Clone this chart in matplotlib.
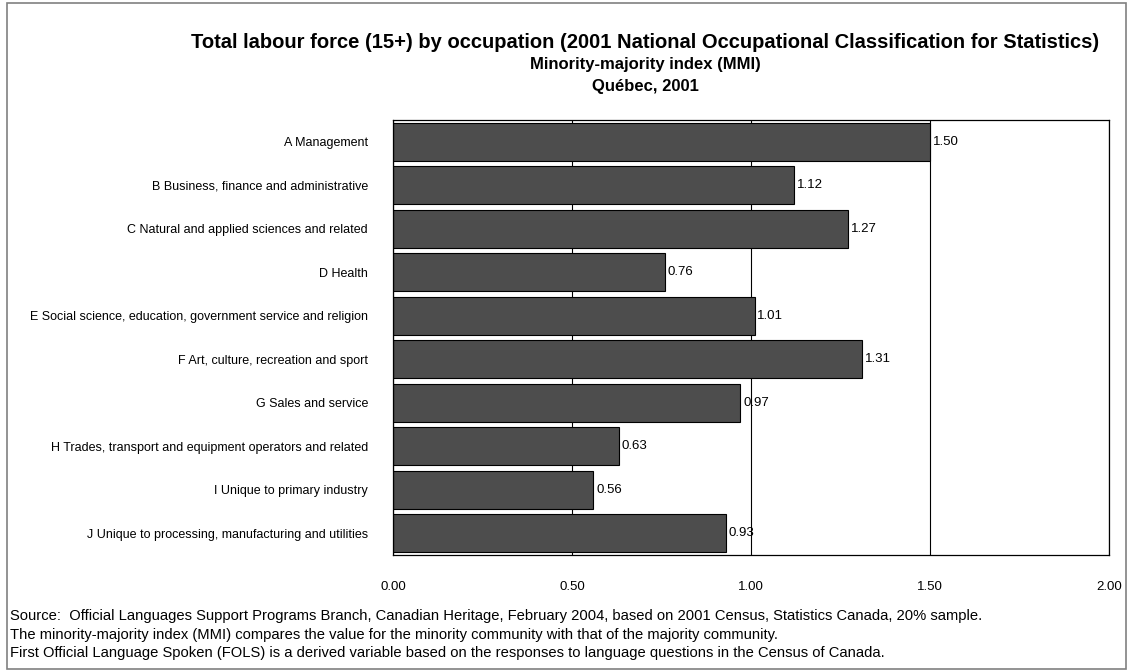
import matplotlib.pyplot as plt
from matplotlib.patches import Rectangle

plt.rcParams['font.family'] = ['Liberation Sans', 'DejaVu Sans']

occupations = [
    "A Management",
    "B Business, finance and administrative",
    "C Natural and applied sciences and related",
    "D Health",
    "E Social science, education, government service and religion",
    "F Art, culture, recreation and sport",
    "G Sales and service",
    "H Trades, transport and equipment operators and related",
    "I Unique to primary industry",
    "J Unique to processing, manufacturing and utilities",
]
mmi = [1.50, 1.12, 1.27, 0.76, 1.01, 1.31, 0.97, 0.63, 0.56, 0.93]
x_ticks = [0.0, 0.5, 1.0, 1.5, 2.0]

notes = [
    "Source:  Official Languages Support Programs Branch, Canadian Heritage, February 2004, based on 2001 Census, Statistics Canada, 20% sample.",
    "The minority-majority index (MMI) compares the value for the minority community with that of the majority community.",
    "First Official Language Spoken (FOLS) is a derived variable based on the responses to language questions in the Census of Canada.",
]

W, H = 1127, 671
fig = plt.figure(figsize=(W / 100, H / 100), dpi=100)
fig.patch.set_facecolor("white")

# outer frame (right/bottom edges sit at the image border)
fig.patches.append(Rectangle((7 / W, 1 - 669 / H), (1126 - 7) / W, (669 - 3) / H,
                             transform=fig.transFigure, fill=False,
                             edgecolor="#808080", linewidth=1.2))

ax = fig.add_axes([393 / W, 1 - 555 / H, (1109 - 393) / W, (555 - 120) / H])
ypos = list(range(len(mmi)))
ax.barh(ypos, mmi, height=0.87, color="#4d4d4d", edgecolor="black",
        linewidth=0.8, zorder=2)
for y, v in zip(ypos, mmi):
    ax.text(v + 0.008, y, f"{v:.2f}", va="center", ha="left", fontsize=9.5, zorder=3)

ax.set_xlim(0, 2)
ax.set_ylim(len(mmi) - 0.5, -0.5)
ax.set_xticks(x_ticks)
ax.set_xticklabels([f"{t:.2f}" for t in x_ticks], fontsize=9.5)
ax.tick_params(axis="x", length=0, pad=19)
ax.set_yticks(ypos)
ax.set_yticklabels(occupations, fontsize=9)
ax.tick_params(axis="y", length=0, pad=18)
ax.grid(axis="x", color="black", linewidth=0.8, zorder=1)
for s in ax.spines.values():
    s.set_color("black")
    s.set_linewidth(0.9)

cx = 645 / W
fig.text(cx, 1 - 43 / H, "Total labour force (15+) by occupation (2001 National Occupational Classification for Statistics)",
         ha="center", va="center", fontsize=14.5, fontweight="bold")
fig.text(cx, 1 - 65 / H, "Minority-majority index (MMI)", ha="center", va="center",
         fontsize=12, fontweight="bold")
fig.text(cx, 1 - 87 / H, "Québec, 2001", ha="center", va="center",
         fontsize=12, fontweight="bold")

for i, line in enumerate(notes):
    fig.text(10 / W, 1 - (616 + 18.5 * i) / H, line, ha="left", va="center", fontsize=10.6)

fig.savefig("out.png", dpi=100)
